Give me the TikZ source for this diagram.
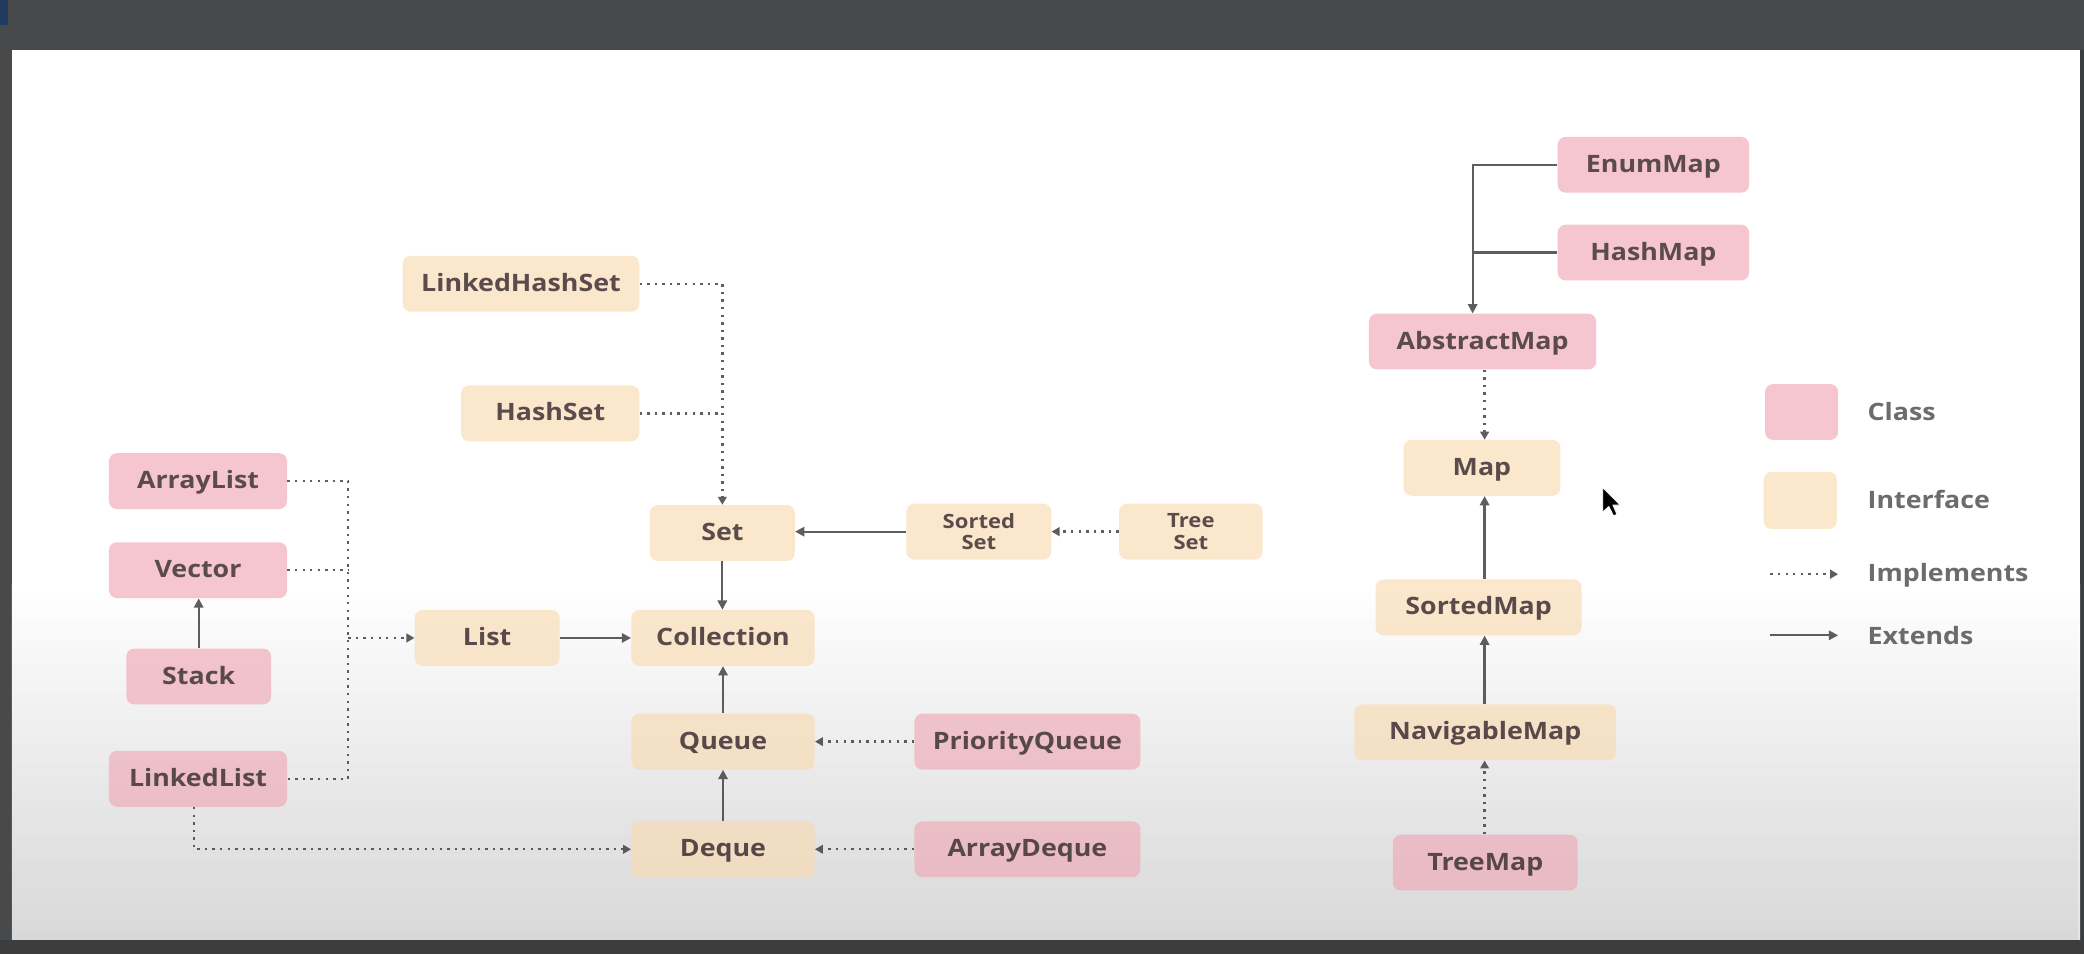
\documentclass[tikz,border=0pt]{standalone}
\usepackage{fontspec}
\setmainfont{Open Sans}[FakeStretch=1.12]
\usetikzlibrary{arrows.meta,fadings}
\definecolor{pinkc}{HTML}{F5C6CF}
\definecolor{beigec}{HTML}{FBE7CB}
\definecolor{txtc}{HTML}{5C4B4D}
\definecolor{legc}{HTML}{6C6C6C}
\definecolor{linec}{HTML}{5E5E5E}
\definecolor{barc}{HTML}{48494B}
\definecolor{barb}{HTML}{3C3D3F}
\definecolor{bluec}{HTML}{1F3A5E}
\definecolor{slidebot}{HTML}{E6E6E6}
\newcommand{\boxfont}{\fontsize{18}{21}\selectfont\bfseries}
\newcommand{\smallboxfont}{\fontsize{14.8}{16.3}\selectfont\bfseries}
\tikzset{
  box/.style={rounded corners=6pt, minimum height=42pt, inner sep=0pt, text=txtc},
  cls/.style={box, fill=pinkc, font=\boxfont, text height=12.8pt, text depth=1.5pt},
  ifc/.style={box, fill=beigec, font=\boxfont, text height=12.8pt, text depth=1.5pt},
  ifctwo/.style={box, fill=beigec, align=center, font=\smallboxfont},
  legtext/.style={anchor=west, inner sep=0pt, font=\boxfont, text=legc},
  solidline/.style={draw=linec, line width=1.7pt},
  dotline/.style={draw=linec, line width=1.8pt, dash pattern=on 1.8pt off 3.9pt},
  ext/.style={solidline, -{Triangle[length=7pt,width=7pt]}},
  impl/.style={dotline, -{Triangle[length=6pt,width=6.5pt]}},
}
\begin{document}
\begin{tikzpicture}[x=1pt,y=-1pt]
\useasboundingbox (0,0) rectangle (1568,718);
% screen frame
\fill[barc] (0,0) rectangle (1568,718);
\fill[bluec] (0,0) rectangle (6,19);
\fill[barb] (0,707) rectangle (1568,718);
\fill[barb] (1565,37.6) rectangle (1568,718);
\fill[white] (9,37.6) rectangle (1565,707);
\shade[top color=white, bottom color=slidebot] (9,440) rectangle (1565,707);

% ---- Collection side ----
\node[ifc, minimum width=178pt] (LinkedHashSet) at (392,213.5) {LinkedHashSet};
\node[ifc, minimum width=134pt] (HashSet) at (414,311) {HashSet};
\node[cls, minimum width=134pt] (ArrayList) at (149,362) {ArrayList};
\node[cls, minimum width=134pt] (Vector) at (149,429) {Vector};
\node[cls, minimum width=109pt] (Stack) at (149.5,509) {Stack};
\node[cls, minimum width=134pt] (LinkedList) at (149,586) {LinkedList};
\node[ifc, minimum width=109pt] (List) at (366.5,480) {List};
\node[ifc, minimum width=138pt] (Collection) at (544,480) {Collection};
\node[ifc, minimum width=109pt] (Set) at (543.5,401) {Set};
\node[ifctwo, minimum width=109pt] (SortedSet) at (736.5,400) {Sorted\\Set};
\node[ifctwo, minimum width=108pt] (TreeSet) at (896,400) {Tree\\Set};
\node[ifc, minimum width=138pt] (Queue) at (544,558) {Queue};
\node[ifc, minimum width=138pt] (Deque) at (544,639) {Deque};
\node[cls, minimum width=170pt] (PriorityQueue) at (773,558) {PriorityQueue};
\node[cls, minimum width=170pt] (ArrayDeque) at (773,639) {ArrayDeque};

% ---- Map side ----
\node[cls, minimum width=144pt] (EnumMap) at (1244,124) {EnumMap};
\node[cls, minimum width=144pt] (HashMap) at (1244,190) {HashMap};
\node[cls, minimum width=171pt] (AbstractMap) at (1115.5,257) {AbstractMap};
\node[ifc, minimum width=118pt] (Map) at (1115,352) {Map};
\node[ifc, minimum width=155pt] (SortedMap) at (1112.5,457) {SortedMap};
\node[ifc, minimum width=197pt] (NavigableMap) at (1117.5,551) {NavigableMap};
\node[cls, minimum width=139pt] (TreeMap) at (1117.5,649) {TreeMap};

% ---- Legend ----
\node[box, fill=pinkc, minimum width=55pt] (LegClass) at (1355.5,310) {};
\node[box, fill=beigec, minimum width=55pt, minimum height=43pt] (LegIface) at (1354.5,376.5) {};
\node[legtext] (LegClassT) at (1405,310) {Class};
\node[legtext] (LegIfaceT) at (1405,376) {Interface};
\node[legtext] (LegImplT) at (1405,433) {Implements};
\node[legtext] (LegExtT) at (1405,478) {Extends};
\coordinate (LegImplA) at (1332,432);
\coordinate (LegImplB) at (1383,432);
\coordinate (LegExtA) at (1332,478);
\coordinate (LegExtB) at (1383,478);
\draw[impl] (LegImplA) -- (LegImplB);
\draw[ext] (LegExtA) -- (LegExtB);

% ---- Connectors: collection ----
\draw[impl] (LinkedHashSet.east) -| (Set.north);
\draw[dotline] (HashSet.east) -- (HashSet.east -| Set.north);
\draw[ext] (Set.south) -- (Set.south |- Collection.north);
\draw[ext] (SortedSet.west) -- (SortedSet.west -| Set.east);
\draw[impl] (TreeSet.west) -- (SortedSet.east);
\draw[ext] (List.east) -- (Collection.west);
\coordinate (busA) at (262,362);
\coordinate (busB) at (262,586);
\coordinate (busM) at (262,480);
\draw[dotline] (ArrayList.east) -- (busA) -- (busB) -- (LinkedList.east);
\draw[dotline] (Vector.east) -- (Vector.east -| busA);
\draw[impl] (busM) -- (List.west);
\draw[ext] (Stack.north) -- (Stack.north |- Vector.south);
\draw[impl] ([xshift=-3pt]LinkedList.south) |- (Deque.west);
\draw[ext] (Queue.north) -- (Collection.south);
\draw[ext] (Deque.north) -- (Queue.south);
\draw[impl] (PriorityQueue.west) -- (Queue.east);
\draw[impl] (ArrayDeque.west) -- (Deque.east);

% ---- Connectors: map ----
\coordinate (amIn) at ([xshift=-7.5pt]AbstractMap.north);
\coordinate (mapx) at (1117,0);
\draw[ext] (EnumMap.west) -| (amIn);
\draw[solidline] (HashMap.west) -- (HashMap.west -| amIn);
\draw[impl] (AbstractMap.south -| mapx) -- (Map.north -| mapx);
\draw[ext] (SortedMap.north -| mapx) -- (Map.south -| mapx);
\draw[ext] (NavigableMap.north -| mapx) -- (SortedMap.south -| mapx);
\draw[impl] (TreeMap.north -| mapx) -- (NavigableMap.south -| mapx);

% mouse cursor
\fill[black, draw=white, line width=0.5pt] (1206,367) -- ++(0,18) -- ++(4.5,-4) -- ++(3.5,7) -- ++(2.5,-1) -- ++(-3,-7) -- ++(5.5,0) -- cycle;

% slight darkening of the lower part of the slide
\fill[black, opacity=0.06, path fading=north] (9,440) rectangle (1565,707);
\end{tikzpicture}
\end{document}
